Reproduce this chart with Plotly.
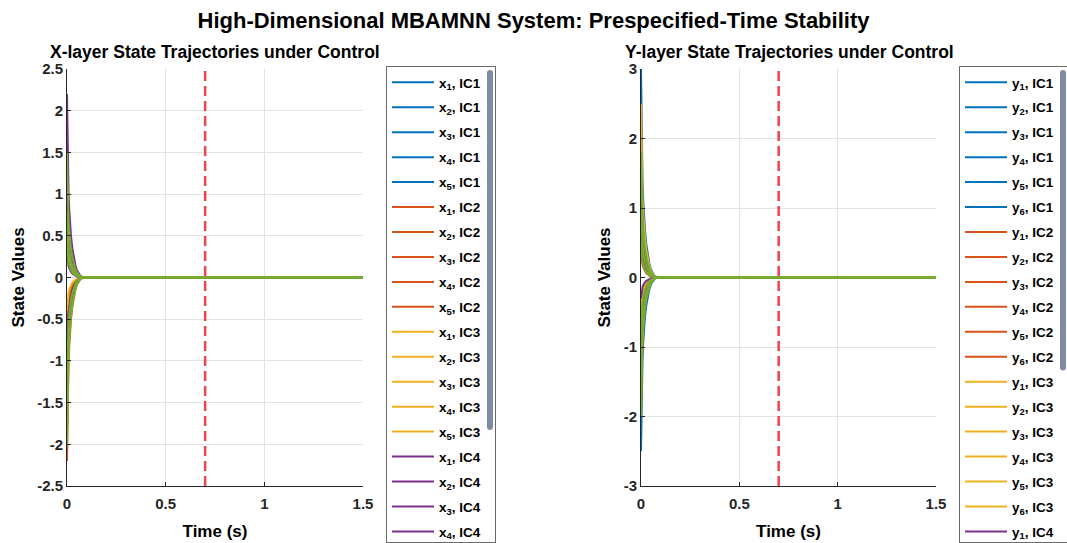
import plotly.graph_objects as go

# Time samples (s) and the normalised settling profile of every state
T_S = [0, 0.002, 0.005, 0.008, 0.012, 0.016, 0.02, 0.027, 0.034, 0.042, 0.05, 0.06, 0.07, 0.1,
       0.35, 0.7, 1.0, 1.5]
SETTLE = [1.0, 0.78, 0.58, 0.45, 0.36, 0.28, 0.23, 0.16, 0.11, 0.07, 0.04, 0.02, 0.005, 0.0,
          0.0, 0.0, 0.0, 0.0]

# Initial conditions of the X layer (5 states) for each initial-condition set
X0_IC1 = [1.2, -0.8, 0.5, -1.5, 0.9]
X0_IC2 = [-2.2, 1.0, -0.6, 1.4, -1.1]
X0_IC3 = [0.7, -1.3, 1.1, -0.4, -1.8]
X0_IC4 = [2.2, -1.0, 0.3, -1.6, 1.3]
X0_IC5 = [1.5, -2.0, 0.8, -1.2, 0.4]

# Initial conditions of the Y layer (6 states)
Y0_IC1 = [3.0, -2.5, 1.2, -0.9, 0.6, -1.4]
Y0_IC2 = [-1.6, 1.1, 0.4, -0.7, 1.7, -1.9]
Y0_IC3 = [2.5, -1.2, 0.8, -1.7, 1.4, -0.5]
Y0_IC4 = [-1.0, 1.5, -1.8, 0.6, -0.3, 1.0]
Y0_IC5 = [1.8, -2.0, 1.0, -1.4, 0.5, -0.8]

IC_LABELS = ["IC1", "IC2", "IC3", "IC4", "IC5"]
IC_COLORS = ["#0072BD", "#D95319", "#EDB120", "#7E2F8E", "#77AC30"]

T_PRESPECIFIED = 0.7
X_TICKS = [0, 0.5, 1, 1.5]
X_LAYER_YTICKS = [-2.5, -2, -1.5, -1, -0.5, 0, 0.5, 1, 1.5, 2, 2.5]
Y_LAYER_YTICKS = [-3, -2, -1, 0, 1, 2, 3]

X_SETS = [X0_IC1, X0_IC2, X0_IC3, X0_IC4, X0_IC5]
Y_SETS = [Y0_IC1, Y0_IC2, Y0_IC3, Y0_IC4, Y0_IC5]

FONT = "Liberation Sans, Arial, sans-serif"
W, H = 1067, 543
M_TOP = 66
PLOT_H = H - M_TOP


def px_x(p):
    return p / W


def px_y(p):
    return (H - p) / PLOT_H


fig = go.Figure()


def add_layer(sets, letter, xa, ya, legend_name):
    for ic, (init, label, color) in enumerate(zip(sets, IC_LABELS, IC_COLORS)):
        for k, x0 in enumerate(init):
            fig.add_trace(go.Scatter(
                x=T_S, y=[x0 * s for s in SETTLE],
                mode="lines", line=dict(color=color, width=2),
                name=f"{letter}<sub>{k + 1}</sub>, {label}",
                legend=legend_name, legendgroup=f"{letter}{ic}{k}",
                xaxis=xa, yaxis=ya,
            ))


add_layer(X_SETS, "x", "x", "y", "legend")
add_layer(Y_SETS, "y", "x2", "y2", "legend2")

# Prespecified settling-time marker
for xa, ya, ticks in (("x", "y", X_LAYER_YTICKS), ("x2", "y2", Y_LAYER_YTICKS)):
    fig.add_trace(go.Scatter(
        x=[T_PRESPECIFIED, T_PRESPECIFIED], y=[ticks[0], ticks[-1]],
        mode="lines", line=dict(color="#F0424F", width=2.5, dash="10px,5px"),
        showlegend=False, xaxis=xa, yaxis=ya, hoverinfo="skip",
    ))

axis_common = dict(
    showgrid=True, gridcolor="#E3E3E3", gridwidth=1,
    showline=True, linecolor="#262626", linewidth=1,
    ticks="inside", ticklen=4, tickcolor="#262626",
    tickfont=dict(family=FONT, size=15, color="#262626", weight="bold"),
    zeroline=False, automargin=False, mirror=False,
)

dom_y = [px_y(486), px_y(69)]
fig.update_layout(
    xaxis=dict(axis_common, domain=[px_x(67), px_x(363)], range=[0, 1.5],
               tickvals=X_TICKS, ticktext=["0", "0.5", "1", "1.5"], anchor="y",
               ticklabelstandoff=4),
    yaxis=dict(axis_common, domain=dom_y, range=[-2.5, 2.5],
               tickvals=X_LAYER_YTICKS, ticktext=[f"{v:g}" for v in X_LAYER_YTICKS], anchor="x"),
    xaxis2=dict(axis_common, domain=[px_x(641), px_x(936)], range=[0, 1.5],
                tickvals=X_TICKS, ticktext=["0", "0.5", "1", "1.5"], anchor="y2",
                ticklabelstandoff=4),
    yaxis2=dict(axis_common, domain=dom_y, range=[-3, 3],
                tickvals=Y_LAYER_YTICKS, ticktext=[f"{v:g}" for v in Y_LAYER_YTICKS], anchor="x2"),
)

title_font = dict(family=FONT, size=17, color="#000000", weight="bold")
fig.update_xaxes(title=dict(text="Time (s)", font=title_font, standoff=14))
fig.update_yaxes(title=dict(text="State Values", font=title_font, standoff=8))

legend_common = dict(
    yanchor="top", y=1, xanchor="left",
    bgcolor="#FFFFFF", bordercolor="#6A6A6A", borderwidth=1,
    font=dict(family=FONT, size=13.5, color="#000000", weight="bold"),
    tracegroupgap=4.4, itemwidth=42, traceorder="grouped",
)
fig.update_layout(
    legend=dict(legend_common, x=px_x(386)),
    legend2=dict(legend_common, x=px_x(959)),
)

sub_font = dict(family=FONT, size=17.5, color="#000000", weight="bold")
fig.add_annotation(text="X-layer State Trajectories under Control", x=px_x(215), y=px_y(52.5),
                   xref="paper", yref="paper", showarrow=False, font=sub_font,
                   xanchor="center", yanchor="middle")
fig.add_annotation(text="Y-layer State Trajectories under Control", x=px_x(789), y=px_y(52.5),
                   xref="paper", yref="paper", showarrow=False, font=sub_font,
                   xanchor="center", yanchor="middle")

fig.update_layout(
    title=dict(text="High-Dimensional MBAMNN System: Prespecified-Time Stability",
               x=0.5, xanchor="center", xref="container",
               y=1 - 20 / H, yanchor="middle", yref="container",
               font=dict(family=FONT, size=22, color="#000000", weight="bold")),
    width=W, height=H,
    margin=dict(l=0, r=0, t=M_TOP, b=0, autoexpand=False),
    paper_bgcolor="#FFFFFF", plot_bgcolor="#FFFFFF",
    template="none", showlegend=True,
)

fig.write_html("out.html")
